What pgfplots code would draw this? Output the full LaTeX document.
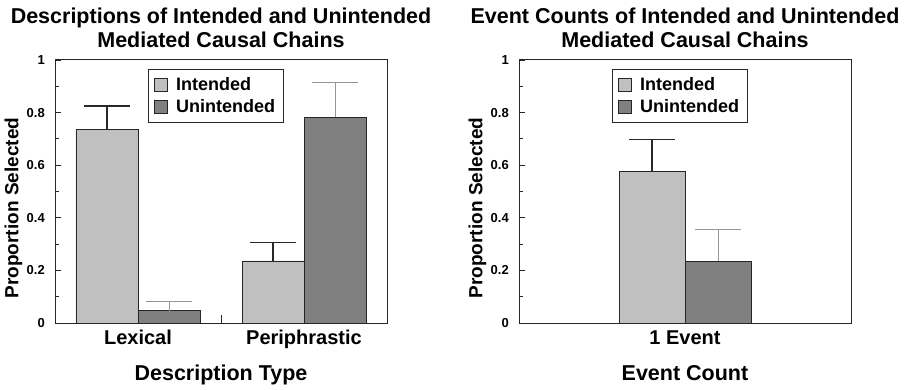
\documentclass[border=0pt]{standalone}
\usepackage{pgfplots}
\pgfplotsset{compat=1.18}
\usepackage{fontspec}
\setmainfont{Liberation Sans}
\definecolor{lightbar}{RGB}{192,192,192}
\definecolor{darkbar}{RGB}{128,128,128}
\definecolor{errlight}{RGB}{150,150,150}
\definecolor{errdark}{RGB}{40,40,40}

\pgfplotsset{
  panel/.style={
    scale only axis, width=332pt, height=263pt,
    anchor=south west,
    ymin=0, ymax=1,
    ytick={0,0.2,0.4,0.6,0.8,1},
    minor ytick={0.1,0.3,0.5,0.7,0.9},
    ytick pos=left, xtick pos=bottom,
    tick align=inside,
    major tick length=6pt, minor tick length=3.5pt,
    axis line style={line width=1pt, black!85},
    tick style={line width=0.8pt, black!85},
    major x tick style={draw=none},
    /pgf/number format/assume math mode=true,
    yticklabel style={font=\bfseries\fontsize{13}{15}\selectfont, anchor=east, inner sep=0pt, xshift=-10pt},
    xticklabel style={font=\bfseries\fontsize{20}{24}\selectfont, anchor=base, inner sep=0pt, yshift=-15pt},
    every axis x label/.style={at={(axis description cs:0.5,0)}, anchor=base, inner sep=0pt, yshift=-57pt, font=\bfseries\fontsize{21.5}{26}\selectfont},
    every axis y label/.style={at={(axis description cs:-0.125,0.437)}, rotate=90, anchor=center, inner sep=0pt, font=\bfseries\fontsize{19}{22}\selectfont},
    title style={at={(axis description cs:0.5,1)}, anchor=south, inner sep=0pt, yshift=6pt, align=center, font=\bfseries\fontsize{21.5}{24}\selectfont},
    ylabel={Proportion Selected},
    legend style={at={(axis description cs:0.28,0.966)}, anchor=north west, draw=black!85, line width=0.8pt,
      font=\bfseries\fontsize{18}{21.5}\selectfont, inner xsep=6pt, inner ysep=6.5pt, row sep=3pt,
      nodes={inner sep=2pt},
      /tikz/every odd column/.append style={column sep=6pt}},
    legend cell align=left,
    ybar, bar width=62pt,
  },
  sq/.style={legend image code/.code={\draw[##1, line width=0.8pt] (0pt,-6.5pt) rectangle (13pt,6.5pt);}},
  barI/.style={fill=lightbar, draw=black!85, line width=0.8pt, sq},
  barU/.style={fill=darkbar, draw=black!85, line width=0.8pt, sq},
  errI/.style={forget plot, draw=none, fill=none,
    error bars/.cd, y dir=plus, y explicit,
    error bar style={draw=errdark, line width=1.2pt},
    error mark options={draw=errdark, line width=1.2pt, rotate=90, mark size=23pt}, /pgfplots/.cd},
  errU/.style={forget plot, draw=none, fill=none,
    error bars/.cd, y dir=plus, y explicit,
    error bar style={draw=errlight, line width=0.8pt},
    error mark options={draw=errlight, line width=0.8pt, rotate=90, mark size=23pt}, /pgfplots/.cd},
}

\begin{document}
\begin{tikzpicture}
\useasboundingbox (0pt,0pt) rectangle (911pt,-390pt);

\begin{axis}[panel, at={(55pt,-323pt)},
  xmin=-0.5, xmax=1.5,
  xtick={0,1}, xticklabels={Lexical,Periphrastic},
  extra x ticks={0.5}, extra x tick labels={},
  extra x tick style={tick align=inside, major x tick style={draw=black!85, line width=0.8pt}, major tick length=8pt},
  xlabel={Description Type},
  title={Descriptions of Intended and Unintended\\Mediated Causal Chains},
]
\addplot[barI, bar shift=-31pt] coordinates {(0,0.737) (1,0.236)};
\addplot[barU, bar shift=31pt] coordinates {(0,0.047) (1,0.782)};
\addplot[bar shift=-31pt, errI] coordinates {(0,0.737) +- (0,0.088) (1,0.236) +- (0,0.071)};
\addplot[bar shift=31pt, errU] coordinates {(0,0.047) +- (0,0.037) (1,0.782) +- (0,0.133)};
\legend{Intended,Unintended}
\end{axis}

\begin{axis}[panel, at={(519pt,-323pt)},
  xmin=-1, xmax=1, bar width=66pt,
  xtick={0}, xticklabels={1 Event},
  xlabel={Event Count},
  title={Event Counts of Intended and Unintended\\Mediated Causal Chains},
]
\addplot[barI, bar shift=-33pt] coordinates {(0,0.575)};
\addplot[barU, bar shift=33pt] coordinates {(0,0.236)};
\addplot[bar shift=-33pt, errI] coordinates {(0,0.575) +- (0,0.123)};
\addplot[bar shift=33pt, errU] coordinates {(0,0.236) +- (0,0.120)};
\legend{Intended,Unintended}
\end{axis}
\end{tikzpicture}
\end{document}
